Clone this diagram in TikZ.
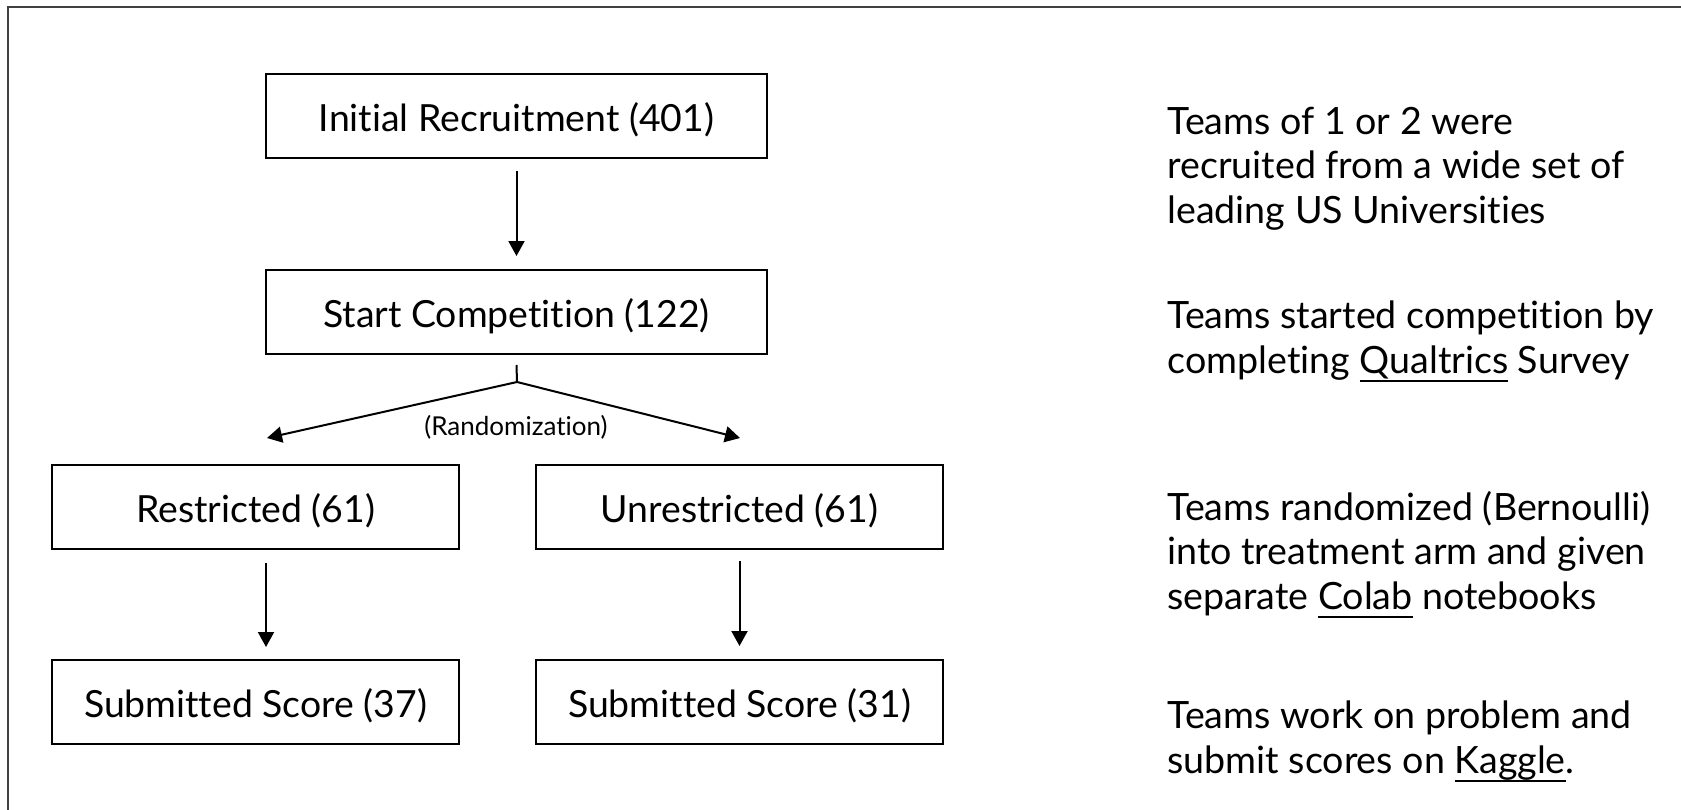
\documentclass[tikz,border=0pt]{standalone}
\usepackage{fontspec}
\setmainfont{Lato}[RawFeature={-liga;-clig;-dlig;-calt}]
\usetikzlibrary{arrows.meta}
\newsavebox\ulbox
\newcommand\ulword[1]{\sbox\ulbox{#1}\rlap{\rule[-4.5pt]{\wd\ulbox}{1pt}}\usebox\ulbox}
\begin{document}
\begin{tikzpicture}[x=0.5pt,y=-0.5pt,
  box/.style={draw, line width=1pt, minimum width=203.5pt, minimum height=42pt, inner sep=0pt,
    text height=17pt, text depth=2pt, font=\fontsize{18.7}{22}\selectfont},
  wide/.style={minimum width=250.5pt},
  arr/.style={line width=1pt, -{Triangle[length=7.5pt,width=8pt]}},
  biarr/.style={line width=1pt, {Triangle[length=7.5pt,width=8pt]}-{Triangle[length=7.5pt,width=8pt]}},
  note/.style={anchor=base west, align=left, inner sep=0pt, font=\fontsize{18.8}{22.15}\selectfont},
  small/.style={inner sep=0pt, font=\fontsize{13}{15}\selectfont}]
\useasboundingbox (0,0) rectangle (1681,809);
\draw[line width=1pt, black!75] (8,815) -- (8,7) -- (1690,7);

\node[box, wide] (init) at (516.5,116) {Initial Recruitment (401)};
\node[box, wide] (start) at (516.5,312) {Start Competition (122)};
\node[box] (restr) at (255.5,507) {Restricted (61)};
\node[box] (unres) at (739.5,507) {Unrestricted (61)};
\node[box] (subA) at (255.5,702) {Submitted Score (37)};
\node[box] (subB) at (739.5,702) {Submitted Score (31)};

\draw[arr] ([yshift=-6pt]init.south) -- ([yshift=6.5pt]start.north);

\coordinate (split) at (517,382);
\coordinate (lt) at (267,438);
\coordinate (rt) at (740,438);
\draw[line width=1pt] ([yshift=-5pt]start.south) -- (split);
\draw[biarr] (lt) -- (split) -- (rt);
\node[small] (rand) at (516,427) {(Randomization)};

\draw[arr] ([xshift=5.25pt,yshift=-6.5pt]restr.south) -- ([xshift=5.25pt,yshift=6pt]subA.north);
\draw[arr] ([yshift=-5.5pt]unres.south) -- ([yshift=6.5pt]subB.north);

% base anchor of a multi-line node = baseline of its last line
\node[note] (n1) at (1167,223) {Teams of 1 or 2 were\\recruited from a wide set of\\leading US Universities};
\node[note] (n2) at (1167,373) {Teams started competition by\\completing \ulword{Qualtrics} Survey};
\node[note] (n3) at (1167,609) {Teams randomized (Bernoulli)\\into treatment arm and given\\separate \ulword{Colab} notebooks};
\node[note] (n4) at (1167,773) {Teams work on problem and\\submit scores on \ulword{Kaggle}.};
\end{tikzpicture}
\end{document}
